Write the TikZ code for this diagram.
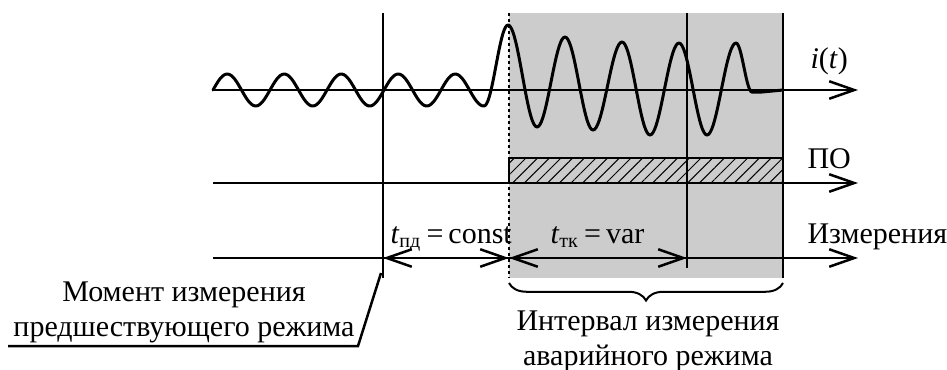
\documentclass[tikz,border=0pt]{standalone}
\usepackage{fontspec}
\setmainfont{Liberation Serif}
\usetikzlibrary{arrows.meta, decorations.pathreplacing, patterns.meta}

\begin{document}
\begin{tikzpicture}[
  x=0.4pt, y=-0.4pt,
  font=\fontsize{12}{14}\selectfont,
  >={Straight Barb[length=10pt,width=7pt]},
  axis/.style={line width=1pt},
  wave/.style={line width=1.2pt, line cap=round, line join=round},
  lbl/.style={inner sep=0pt, anchor=base west},
  note/.style={inner sep=0pt, align=center, anchor=base}
]
  \useasboundingbox (0,0) rectangle (947,369);

  % Fault interval
  \fill[gray!40] (509,13) rectangle (783,278);

  % Relay pickup (hatched bar)
  \fill[pattern={Lines[angle=45, distance=3.3pt, line width=0.4pt]}]
    (509,158) rectangle (783,183);
  \draw[line width=0.8pt] (509,183) |- (783,158);

  % Time marks
  \coordinate (k0) at (383,258);
  \coordinate (k1) at (509,258);
  \coordinate (k2) at (687,258);
  \coordinate (k3) at (783,258);
  \draw[axis] (383,13) -- (383,278);
  \draw[axis] (687,13) -- (687,268);
  \draw[axis] (783,13) -- (783,278);
  \draw[line width=0.8pt, dash pattern=on 1.2pt off 1.2pt] (509,13) -- (509,278);

  % Axes
  \draw[axis, ->] (213,90) -- (858,90);
  \draw[axis, ->] (213,183) -- (858,183);
  \draw[axis, ->] (213,258) -- (858,258);
  \node[lbl] (it) at (810,68) {\textit{i}(\textit{t})};
  \node[lbl] (po) at (807,168) {ПО};
  \node[lbl] (meas) at (807,243) {Измерения};

  % Current before and after the fault
  \draw[wave] plot[domain=213:484, samples=150]
    (\x, {90-16*sin(360/57*(\x-213))});
  \foreach \xa/\ya/\xb/\yb in {484/106/508/25, 508/25/537/127,
      537/127/565/37, 565/37/593/130, 593/130/622/42, 622/42/650/135,
      650/135/679/43, 679/43/707/135, 707/135/736/43, 736/43/752/92}
    \draw[wave] plot[domain=\xa:\xb, samples=20]
      (\x, {(\ya+\yb)/2+(\ya-\yb)/2*cos(180*(\x-\xa)/(\xb-\xa))});
  \draw[wave] (752,92) -- (762,92) -- (783,90);

  % Time intervals
  \draw[axis, <->] (k0) -- (k1);
  \draw[axis, <->] (k1) -- (k2);
  \node[lbl] (tpd) at (390,243) {\textit{t}\textsubscript{пд}\,=\,const};
  \node[lbl] (ttk) at (550,243) {\textit{t}\textsubscript{тк}\,=\,var};

  % Pre-fault measurement moment
  \node[note] (mom) at (184,336) {Момент измерения\\предшествующего режима};
  \coordinate (ldr) at (358,346);
  \draw[axis] (8,346) -- (ldr) -- (381,273);

  % Fault measurement interval
  \draw[line width=0.8pt, decorate, decoration={brace, amplitude=7pt}]
    (783,283) -- (509,283);
  \node[note] (intv) at (648,365) {Интервал измерения\\аварийного режима};
\end{tikzpicture}
\end{document}
